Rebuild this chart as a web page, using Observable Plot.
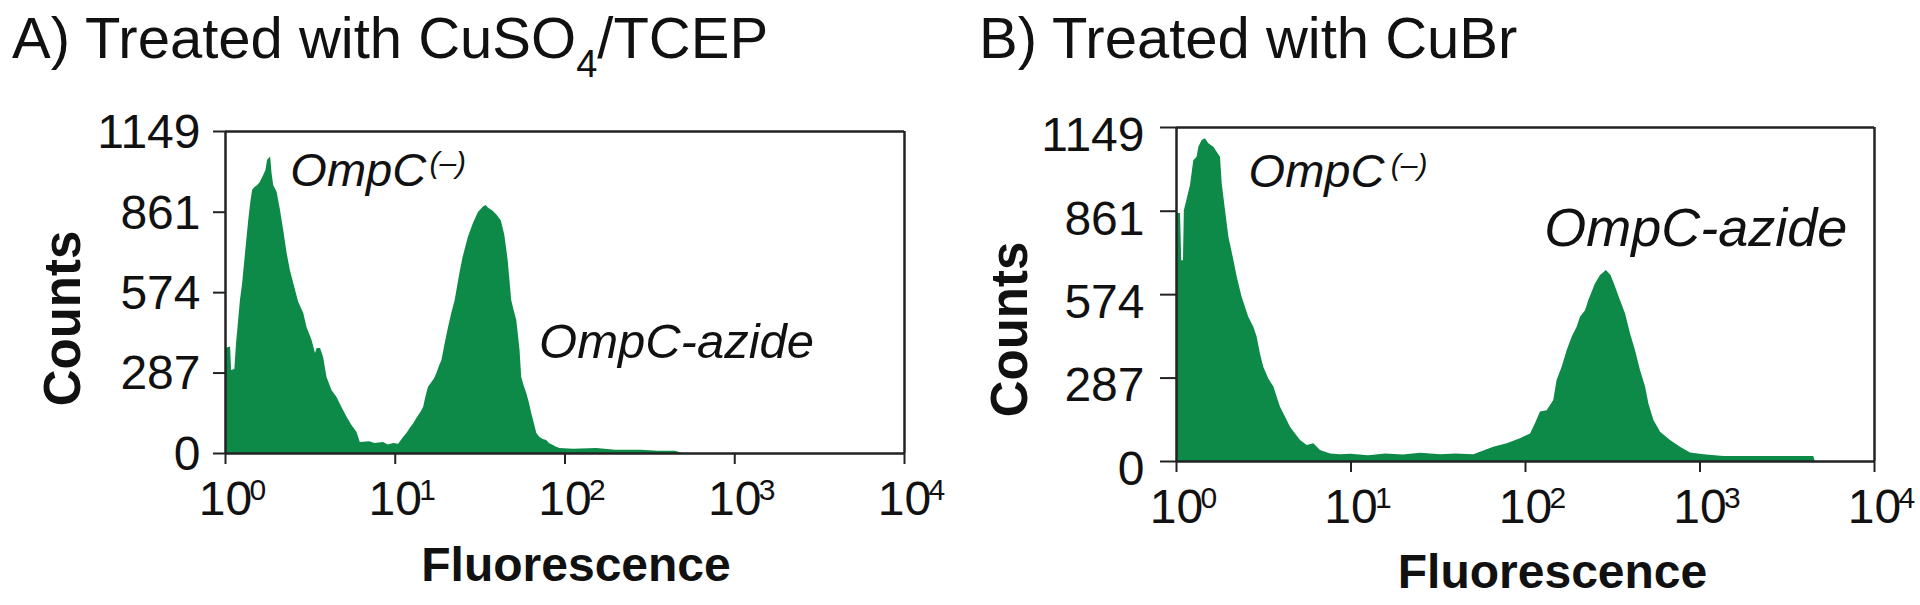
<!DOCTYPE html>
<html><head><meta charset="utf-8">
<script src="https://cdn.jsdelivr.net/npm/d3@7"></script>
<script src="https://cdn.jsdelivr.net/npm/@observablehq/plot@0.6"></script>
<style>
body{margin:0;background:#fff;}
#wrap{position:relative;width:1920px;height:605px;overflow:hidden;font-family:"Liberation Sans",Arial,sans-serif;background:#fff;}
.title{position:absolute;font-size:58px;line-height:58px;white-space:nowrap;color:#111;}
.title .sub{font-size:38px;position:relative;top:19px;}
.panel{position:absolute;top:90px;}
.panel svg{overflow:visible;}
</style></head><body><div id="wrap">
<div class="title" style="left:12px;top:9px">A) Treated with CuSO<span class="sub">4</span>/TCEP</div>
<div class="title" style="left:979px;top:9px">B) Treated with CuBr</div>
<div class="panel" id="pA" style="left:0px"></div>
<div class="panel" id="pB" style="left:960px"></div>
</div>
<script>
// ---- data (log10 fluorescence, counts) ----
const aLogFluor = [
 0.000,0.030,0.036,0.055,0.065,0.076,0.088,0.100,0.118,0.137,
 0.150,0.160,0.175,0.190,0.205,0.225,0.238,0.248,0.258,0.266,
 0.274,0.284,0.304,0.324,0.343,0.363,0.382,0.402,0.431,0.461,
 0.480,0.510,0.530,0.540,0.560,0.578,0.598,0.627,0.657,0.686,
 0.716,0.745,0.775,0.794,0.850,0.880,0.930,0.960,0.990,1.020,
 1.049,1.070,1.088,1.110,1.127,1.150,1.167,1.180,1.196,1.216,
 1.230,1.245,1.260,1.275,1.294,1.314,1.333,1.353,1.380,1.400,
 1.430,1.460,1.490,1.520,1.535,1.550,1.575,1.600,1.625,1.645,
 1.665,1.686,1.700,1.716,1.735,1.745,1.760,1.775,1.790,1.804,
 1.820,1.834,1.853,1.872,1.892,1.910,1.929,1.950,1.971,2.050,
 2.186,2.300,2.450,2.550,2.650,2.694];
const aCounts = [
 375,380,296,300,392,464,546,600,714,832,
 900,939,950,956,967,992,1010,1046,1053,1058,
 1000,956,932,867,796,714,653,607,540,500,
 450,403,357,375,375,343,271,225,200,164,
 129,100,75,39,42,36,39,30,36,33,
 57,72,89,107,125,145,164,200,236,253,
 265,285,310,332,392,450,500,546,640,700,
 770,820,860,880,885,875,865,850,830,780,
 690,546,510,475,368,271,240,214,180,143,
 105,71,57,50,46,35,29,22,18,15,
 18,12,12,8,8,0];
const bLogFluor = [
 0.000,0.023,0.030,0.040,0.045,0.060,0.080,0.099,0.118,0.128,
 0.147,0.166,0.185,0.214,0.233,0.252,0.262,0.281,0.300,0.329,
 0.348,0.376,0.395,0.414,0.443,0.462,0.481,0.500,0.529,0.558,
 0.577,0.596,0.625,0.653,0.682,0.711,0.749,0.787,0.825,0.883,
 0.940,1.000,1.100,1.200,1.300,1.400,1.513,1.600,1.704,1.742,
 1.818,1.895,1.971,2.029,2.057,2.086,2.124,2.162,2.181,2.210,
 2.239,2.268,2.296,2.315,2.344,2.363,2.400,2.430,2.464,2.490,
 2.510,2.544,2.573,2.602,2.630,2.659,2.688,2.707,2.736,2.774,
 2.831,2.888,2.946,3.022,3.136,3.400,3.652,3.660];
const bCounts = [
 853,853,691,691,863,900,949,1035,1047,1081,
 1104,1110,1093,1081,1064,1047,955,863,772,691,
 634,565,531,496,462,428,370,324,284,256,
 221,187,152,118,95,72,55,61,38,26,
 23,25,20,26,22,28,23,26,23,32,
 49,61,78,95,130,170,175,210,279,324,
 382,428,462,496,519,554,610,640,657,640,
 610,554,508,439,382,313,256,198,141,101,
 72,49,29,23,17,17,17,0];

const yTicks = [0, 287, 574, 861, 1149];
const yTickLabels = ["0", "287", "574", "861", "1149"];
const xTicks = [1, 10, 100, 1000, 10000];
const xTickBase = "10";
const xTickExponents = ["0", "1", "2", "3", "4"];

// annotation texts and their anchor (fluorescence, counts)
const aAnnoText = ["OmpC", "(\u2013)", "OmpC-azide"];
const aAnnoX = [2.41, 15.9, 70.3];
const aAnnoY = [953, 1000, 339];
const aAnnoSize = [47, 30, 49];
const bAnnoText = ["OmpC", "(\u2013)", "OmpC-azide"];
const bAnnoX = [2.59, 16.9, 128];
const bAnnoY = [946, 986, 740];
const bAnnoSize = [47, 30, 54];

const GREEN = "#0d8a47";
const AX = "#222";
const FONT = "Liberation Sans, Arial, Helvetica, sans-serif";

function panel(cfg) {
  const data = cfg.logs.map((l, i) => ({x: Math.pow(10, l), y: cfg.counts[i]}));
  const anno = cfg.annoText.map((t, i) => ({t, x: cfg.annoX[i], y: cfg.annoY[i], s: cfg.annoSize[i]}));
  return Plot.plot({
    width: 960, height: 515,
    marginLeft: cfg.ml, marginRight: cfg.mr, marginTop: cfg.mt, marginBottom: cfg.mb,
    x: {type: "log", domain: [1, 1e4]},
    y: {domain: [0, 1149]},
    style: {fontFamily: FONT, color: "#111", background: "transparent", overflow: "visible"},
    marks: [
      Plot.areaY(data, {x: "x", y: "y", fill: GREEN, curve: "linear"}),
      Plot.ruleY([1149], {stroke: AX, strokeWidth: 2.5}),
      Plot.ruleX([1e4], {stroke: AX, strokeWidth: 2.5}),
      Plot.ruleY([0], {stroke: AX, strokeWidth: 2.5}),
      Plot.ruleX([1], {stroke: AX, strokeWidth: 2.5}),
      Plot.axisY({ticks: yTicks, tickSize: cfg.yTick, stroke: AX, strokeWidth: 2, fill: "none", tickFormat: () => "", label: null}),
      Plot.axisY({ticks: yTicks, tickSize: 0, tickPadding: cfg.yTick + cfg.yPad, fontSize: 48, dy: cfg.yLabelDy,
                  tickFormat: (d) => yTickLabels[yTicks.indexOf(d)], label: null, fill: "#111"}),
      Plot.axisX({ticks: xTicks, tickSize: 11, stroke: AX, strokeWidth: 2, fill: "none", tickFormat: () => "", label: null}),
      Plot.text(xTicks, {x: (d) => d, frameAnchor: "bottom", text: () => xTickBase, textAnchor: "middle",
                         lineAnchor: "bottom", dy: cfg.xLabelDy, fontSize: 48, fill: "#111"}),
      Plot.text(xTicks, {x: (d) => d, frameAnchor: "bottom", text: (d, i) => xTickExponents[i], textAnchor: "start",
                         lineAnchor: "bottom", dx: 24, dy: cfg.xLabelDy - 15, fontSize: 30, fill: "#111"}),
      Plot.text(anno, {x: "x", y: "y", text: "t", fontSize: "s", fontStyle: "italic", textAnchor: "start",
                       lineAnchor: "bottom", fill: "#111"}),
      Plot.text(["Counts"], {text: (d) => d, frameAnchor: "left", textAnchor: "middle", lineAnchor: "middle",
                             rotate: -90, dx: cfg.countsDx, dy: cfg.countsDy,
                             fontSize: 51, fontWeight: "bold", fill: "#111"}),
      Plot.text(["Fluorescence"], {text: (d) => d, frameAnchor: "bottom", textAnchor: "middle", lineAnchor: "bottom",
                                   dx: cfg.fluorDx, dy: cfg.fluorDy, fontSize: 48, fontWeight: "bold", fill: "#111"})
    ]
  });
}

document.getElementById("pA").append(panel({
  logs: aLogFluor, counts: aCounts, annoText: aAnnoText, annoX: aAnnoX, annoY: aAnnoY, annoSize: aAnnoSize,
  ml: 225, mr: 56, mt: 41, mb: 152, yTick: 12, yPad: 13, yLabelDy: 1, xLabelDy: 61,
  countsDx: -162, countsDy: 26, fluorDx: 11, fluorDy: 127
}));
document.getElementById("pB").append(panel({
  logs: bLogFluor, counts: bCounts, annoText: bAnnoText, annoX: bAnnoX, annoY: bAnnoY, annoSize: bAnnoSize,
  ml: 216, mr: 46, mt: 37, mb: 144, yTick: 16, yPad: 16, yLabelDy: 8, xLabelDy: 61,
  countsDx: -166, countsDy: 35, fluorDx: 27, fluorDy: 126
}));
</script></body></html>
